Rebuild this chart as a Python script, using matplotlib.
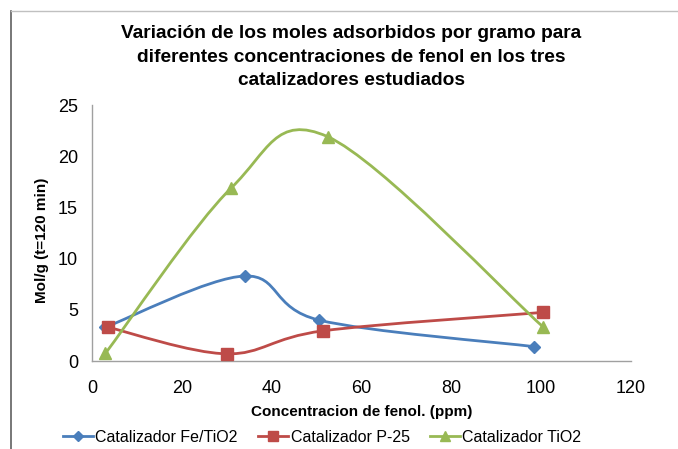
import matplotlib
matplotlib.use("Agg")
import matplotlib.pyplot as plt
import numpy as np
from matplotlib.path import Path
from matplotlib.patches import PathPatch
from matplotlib.lines import Line2D

plt.rcParams["font.family"] = ["Liberation Sans", "DejaVu Sans"]

# ---------------------------------------------------------------------------
# Data
# ---------------------------------------------------------------------------
fe_x = [3, 34, 50.5, 98.5]
fe_y = [3.3, 8.3, 4.0, 1.4]
p25_x = [3.5, 30, 51.5, 100.5]
p25_y = [3.3, 0.7, 2.95, 4.75]
tio2_x = [3, 31, 52.5, 100.5]
tio2_y = [0.75, 16.9, 21.9, 3.3]

labels = ["Catalizador Fe/TiO2", "Catalizador P-25", "Catalizador TiO2"]
colors = ["#4A7EBB", "#BE4B48", "#98B954"]
markers = ["D", "s", "^"]
msizes = [6, 8, 8.5]

x_ticks = [0, 20, 40, 60, 80, 100, 120]
y_ticks = [0, 5, 10, 15, 20, 25]

title = ("Variación de los moles adsorbidos por gramo para\n"
         "diferentes concentraciones de fenol en los tres\n"
         "catalizadores estudiados")


def smooth_path(xs, ys):
    """Excel-style smoothed line: cubic Bezier segments (Catmull-Rom, tension 1/6)."""
    pts = np.column_stack([xs, ys]).astype(float)
    ext = np.vstack([pts[0], pts, pts[-1]])
    verts = [tuple(pts[0])]
    codes = [Path.MOVETO]
    for i in range(1, len(ext) - 2):
        p0, p1, p2, p3 = ext[i - 1], ext[i], ext[i + 1], ext[i + 2]
        c1 = p1 + (p2 - p0) / 6.0
        c2 = p2 - (p3 - p1) / 6.0
        verts += [tuple(c1), tuple(c2), tuple(p2)]
        codes += [Path.CURVE4] * 3
    return Path(verts, codes)


W, H = 678, 449
fig = plt.figure(figsize=(W / 100, H / 100), dpi=100)

# chart area border (partly visible in the reference)
fig.add_artist(Line2D([11 / W, 11 / W], [0, 1 - 11 / H], transform=fig.transFigure,
                      color="#606060", linewidth=1.2))
fig.add_artist(Line2D([11 / W, 1], [1 - 11 / H, 1 - 11 / H], transform=fig.transFigure,
                      color="#C0C0C0", linewidth=1.0))

left, right, top, bottom = 92, 631, 105, 361
ax = fig.add_axes([left / W, 1 - bottom / H, (right - left) / W, (bottom - top) / H])

series = [(fe_x, fe_y), (p25_x, p25_y), (tio2_x, tio2_y)]
handles = []
for (xs, ys), c, m, ms, lab in zip(series, colors, markers, msizes, labels):
    patch = PathPatch(smooth_path(xs, ys), facecolor="none", edgecolor=c,
                      linewidth=2.0, transform=ax.transData, zorder=2)
    ax.add_patch(patch)
    ax.plot(xs, ys, linestyle="none", marker=m, markersize=ms, color=c, zorder=3)
    handles.append(Line2D([], [], color=c, linewidth=2.0, marker=m, markersize=ms - 1, label=lab))

ax.set_xlim(0, 120)
ax.set_ylim(0, 25)
ax.set_xticks(x_ticks)
ax.set_yticks(y_ticks)
ax.tick_params(axis="both", length=0, labelsize=13, colors="black")
ax.tick_params(axis="x", pad=13.5)
ax.tick_params(axis="y", pad=10)
for side in ["top", "right"]:
    ax.spines[side].set_visible(False)
for side in ["left", "bottom"]:
    ax.spines[side].set_color("#A0A0A0")
    ax.spines[side].set_linewidth(1.0)

ax.set_xlabel("Concentracion de fenol. (ppm)", fontsize=11, fontweight="bold")
ax.set_ylabel("Mol/g (t=120 min)", fontsize=11, fontweight="bold")
ax.xaxis.set_label_coords(0.5, -0.17)
ax.yaxis.set_label_coords(-0.08, 0.47)

fig.text(351 / W, 1 - 57 / H, title, ha="center", va="center", fontsize=13.8,
         fontweight="bold", linespacing=1.5)

fig.legend(handles=handles, loc="center", bbox_to_anchor=(322 / W, 1 - 437 / H), ncol=3,
           frameon=False, fontsize=11.5, handlelength=1.9, handletextpad=0.15,
           columnspacing=1.25)

fig.savefig("out.png", dpi=100)
